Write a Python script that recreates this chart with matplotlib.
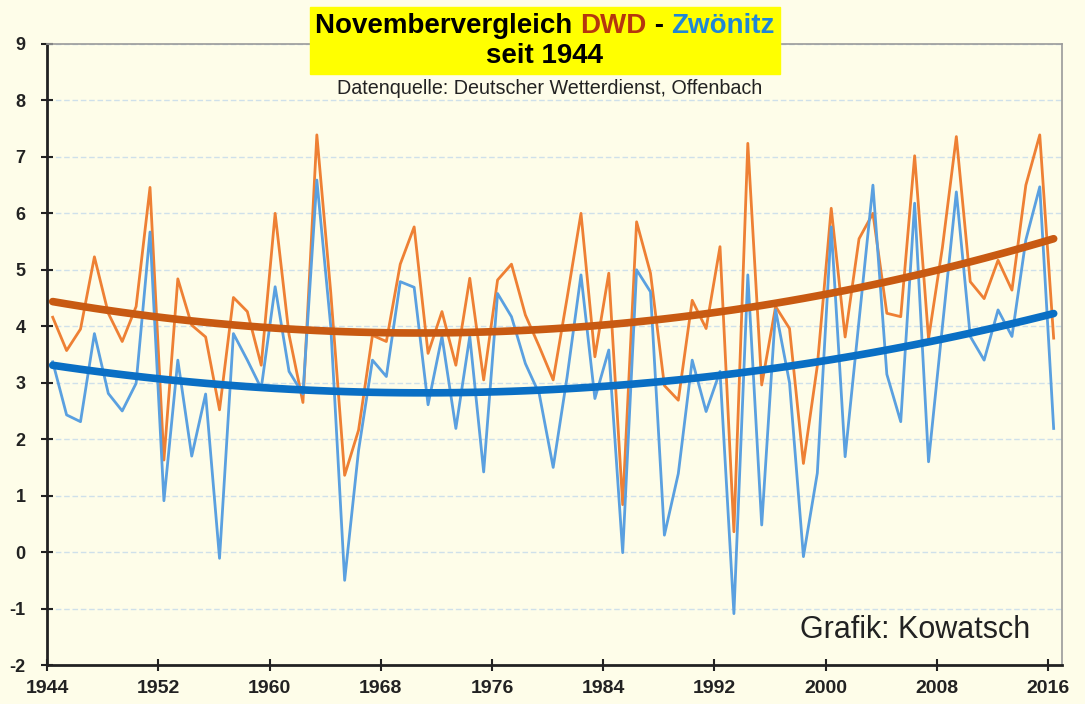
import numpy as np
from matplotlib import pyplot as plt
from matplotlib.offsetbox import TextArea, HPacker, VPacker, AnchoredOffsetbox

years = list(range(1944, 2017))

dwd = [4.16, 3.57, 3.95, 5.23, 4.23, 3.73, 4.35, 6.46, 1.63, 4.84,
       4.02, 3.81, 2.52, 4.51, 4.26, 3.31, 6.00, 3.85, 2.65, 7.39,
       4.60, 1.36, 2.16, 3.84, 3.73, 5.10, 5.76, 3.52, 4.26, 3.31,
       4.85, 3.05, 4.82, 5.10, 4.20, 3.64, 3.05, 4.50, 6.00, 3.46,
       4.94, 0.84, 5.85, 4.94, 2.95, 2.69, 4.46, 3.96, 5.41, 0.36,
       7.24, 2.96, 4.35, 3.96, 1.57, 3.30, 6.09, 3.81, 5.55, 6.00,
       4.23, 4.17, 7.02, 3.78, 5.40, 7.36, 4.79, 4.49, 5.17, 4.64,
       6.50, 7.39, 3.79]

zwoenitz = [3.37, 2.43, 2.31, 3.87, 2.81, 2.50, 2.99, 5.67, 0.91, 3.40,
            1.70, 2.80, -0.11, 3.87, 3.40, 2.90, 4.70, 3.20, 2.80, 6.59,
            4.00, -0.50, 1.80, 3.40, 3.11, 4.79, 4.69, 2.61, 3.82, 2.19,
            3.82, 1.42, 4.58, 4.17, 3.34, 2.80, 1.50, 3.10, 4.91, 2.72,
            3.58, -0.01, 5.00, 4.61, 0.30, 1.39, 3.40, 2.49, 3.20, -1.09,
            4.91, 0.48, 4.29, 3.00, -0.08, 1.40, 5.76, 1.69, 4.10, 6.50,
            3.15, 2.31, 6.18, 1.60, 4.00, 6.38, 3.82, 3.40, 4.29, 3.82,
            5.53, 6.47, 2.19]

tick_years = list(range(1944, 2017, 8))
y_ticks = list(range(-2, 10))

bg = "#fefde9"
c_dwd = "#ee8034"
c_zw = "#5aa0e0"
c_dwd_trend = "#c85a12"
c_zw_trend = "#0a6fc4"

plt.rcParams['axes.unicode_minus'] = False


def trend(x, y):
    # quadratic trend like the Excel polynomial trendline
    coef = np.polyfit(x, y, 2)
    return np.polyval(coef, x)


def main():
    x = np.array(years)
    fig = plt.figure(figsize=(10.85, 7.04), dpi=100, facecolor=bg)
    ax = fig.add_axes([47 / 1085, 1 - 665 / 704, 1015 / 1085, 621 / 704])
    ax.set_facecolor(bg)

    for v in y_ticks[1:]:
        ax.axhline(v, color="#cfe0ea", lw=1.0, ls=(0, (4, 2)), zorder=0)

    ax.plot(x, dwd, color=c_dwd, lw=2.0, zorder=2)
    ax.plot(x, zwoenitz, color=c_zw, lw=2.0, zorder=2)
    ax.plot(x, trend(x, dwd), color=c_dwd_trend, lw=5.5, zorder=3,
            solid_capstyle="round")
    ax.plot(x, trend(x, zwoenitz), color=c_zw_trend, lw=5.5, zorder=3,
            solid_capstyle="round")

    ax.set_xlim(1943.59, 2016.6)
    ax.set_ylim(-2, 9)
    ax.set_xticks([t - 0.4 for t in tick_years])
    ax.set_xticklabels([str(t) for t in tick_years])
    ax.set_yticks(y_ticks)
    for lab in ax.get_xticklabels():
        lab.set_fontsize(14)
        lab.set_fontweight("bold")
        lab.set_fontfamily("Liberation Sans")
        lab.set_color("#222222")
    for lab in ax.get_yticklabels():
        lab.set_fontsize(13)
        lab.set_fontweight("bold")
        lab.set_fontfamily("Liberation Sans")
        lab.set_color("#222222")
    ax.tick_params(direction="inout", length=9, width=1.5, color="#222222")
    ax.tick_params(axis="y", pad=11)
    ax.tick_params(axis="x", pad=6)

    for side in ("left", "bottom"):
        ax.spines[side].set_color("#222222")
        ax.spines[side].set_linewidth(2)
    for side in ("top", "right"):
        ax.spines[side].set_color("#9a9a9a")
        ax.spines[side].set_linewidth(1.2)

    fp = dict(fontsize=20, fontweight="bold", fontfamily="Liberation Sans")
    line1 = HPacker(children=[
        TextArea("Novembervergleich ", textprops=dict(color="black", **fp)),
        TextArea("DWD", textprops=dict(color="#b5360e", **fp)),
        TextArea(" - ", textprops=dict(color="black", **fp)),
        TextArea("Zwönitz", textprops=dict(color="#1f86d6", **fp)),
    ], align="baseline", pad=0, sep=0)
    line2 = TextArea("seit 1944", textprops=dict(color="black", **fp))
    box = VPacker(children=[line1, line2], align="center", pad=0, sep=3)
    anch = AnchoredOffsetbox(loc="upper center", child=box, pad=0.4,
                             frameon=True,
                             bbox_to_anchor=(545 / 1085, 1 - 7 / 704),
                             bbox_transform=fig.transFigure, borderpad=0)
    anch.patch.set_facecolor("#ffff00")
    anch.patch.set_edgecolor("#ffff00")
    anch.patch.set_boxstyle("square", pad=0)
    fig.add_artist(anch)

    fig.text(550 / 1085, 1 - 88 / 704,
             "Datenquelle: Deutscher Wetterdienst, Offenbach",
             ha="center", va="center", fontsize=14.2, color="#222222",
             family="Liberation Sans")
    fig.text(915 / 1085, 1 - 630 / 704, "Grafik: Kowatsch",
             ha="center", va="center", fontsize=22, color="#222222",
             family="Liberation Sans")

    fig.savefig("out.png", dpi=100, facecolor=bg)


if __name__ == '__main__':
    main()
